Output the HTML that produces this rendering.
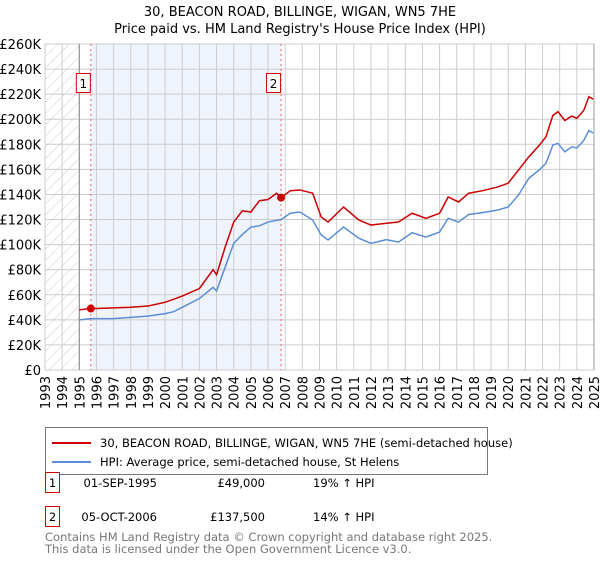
<!DOCTYPE html>
<html><head><meta charset="utf-8"><style>
body{margin:0;background:#fff;font-family:"Liberation Sans","DejaVu Sans",sans-serif;}
svg text{font-family:"DejaVu Sans","Liberation Sans",sans-serif;}
</style></head><body>
<svg id="c" width="600" height="560" xmlns="http://www.w3.org/2000/svg">
<defs><pattern id="hatch" width="8" height="8" patternUnits="userSpaceOnUse" patternTransform="rotate(45)"><line x1="0" y1="0" x2="0" y2="8" stroke="#ccc" stroke-width="1"/></pattern></defs>
<text x="300" y="16" text-anchor="middle" font-size="13">30, BEACON ROAD, BILLINGE, WIGAN, WN5 7HE</text>
<text x="300" y="33" text-anchor="middle" font-size="13">Price paid vs. HM Land Registry's House Price Index (HPI)</text>
<g id="plot"></g>
<g>
<rect x="45.5" y="427.5" width="442" height="47" fill="#fff" stroke="#777"/>
<line x1="52" y1="443" x2="91" y2="443" stroke="#cc0000" stroke-width="2"/>
<text x="100" y="447" font-size="11.5">30, BEACON ROAD, BILLINGE, WIGAN, WN5 7HE (semi-detached house)</text>
<line x1="52" y1="462" x2="91" y2="462" stroke="#5b8ed6" stroke-width="2"/>
<text x="100" y="466" font-size="11.5">HPI: Average price, semi-detached house, St Helens</text>
</g>
<g font-size="11.5">
<rect x="45.5" y="472.5" width="14" height="20" fill="#fff" stroke="#cc0000"/>
<text x="52.5" y="487" text-anchor="middle">1</text>
<text x="157" y="487" text-anchor="end">01-SEP-1995</text>
<text x="265" y="487" text-anchor="end">£49,000</text>
<text x="313" y="487">19% ↑ HPI</text>
<rect x="45.5" y="506.5" width="14" height="20" fill="#fff" stroke="#cc0000"/>
<text x="52.5" y="521" text-anchor="middle">2</text>
<text x="157" y="521" text-anchor="end">05-OCT-2006</text>
<text x="265" y="521" text-anchor="end">£137,500</text>
<text x="313" y="521">14% ↑ HPI</text>
</g>
<text x="45" y="541" font-size="11.5" fill="#777">Contains HM Land Registry data © Crown copyright and database right 2025.</text>
<text x="45" y="553" font-size="11.5" fill="#777">This data is licensed under the Open Government Licence v3.0.</text>
</svg>
<script>
const hpiYears=[1995,1995.67,1996,1997,1998,1999,2000,2000.5,2001,2002,2002.8,2003,2003.5,2004,2004.5,2005,2005.5,2006,2006.76,2007.3,2007.86,2008.6,2009.1,2009.5,2010.4,2011.3,2012.0,2012.9,2013.6,2014.4,2015.2,2016.0,2016.5,2017.1,2017.7,2018.5,2019.4,2020.0,2020.6,2021.2,2021.8,2022.2,2022.6,2022.9,2023.3,2023.7,2024.0,2024.4,2024.7,2024.95];
const hpiValues=[40000,41000,41000,41000,42000,43000,45000,46500,50000,57000,66000,63000,82000,101000,108000,114000,115000,118000,120000,125000,126000,119600,107700,103700,114000,105000,101000,104000,102000,109500,106000,110000,121000,118000,124000,125500,127600,130000,139600,152900,159500,164800,179400,180700,174000,178000,177000,183000,191000,189000];
const propYears=[1995,1995.67,1996,1997,1998,1999,2000,2001,2002,2002.8,2003,2003.5,2004,2004.5,2005,2005.5,2006,2006.5,2006.76,2007.3,2007.86,2008.6,2009.1,2009.5,2010.4,2011.3,2012.0,2012.9,2013.6,2014.4,2015.2,2016.0,2016.5,2017.1,2017.7,2018.5,2019.4,2020.0,2020.6,2021.2,2021.8,2022.2,2022.6,2022.9,2023.3,2023.7,2024.0,2024.4,2024.7,2024.95];
const propValues=[48000,49000,49000,49500,50000,51000,54000,59000,65000,80000,76000,98000,118000,127000,126000,135000,136000,141000,137500,143000,143600,141000,122000,118000,130000,119600,115600,117000,118000,125000,121000,125000,138000,134000,141000,143000,146000,149000,159500,170000,179000,186000,203000,206000,199000,202500,200700,207000,218000,216000];
const saleYears=[1995.67,2006.76];
const saleValues=[49000,137500];
const saleLabels=["1","2"];
const yTicks=[0,20000,40000,60000,80000,100000,120000,140000,160000,180000,200000,220000,240000,260000];
const yTickLabels=["£0","£20K","£40K","£60K","£80K","£100K","£120K","£140K","£160K","£180K","£200K","£220K","£240K","£260K"];
const xTicks=[1993,1994,1995,1996,1997,1998,1999,2000,2001,2002,2003,2004,2005,2006,2007,2008,2009,2010,2011,2012,2013,2014,2015,2016,2017,2018,2019,2020,2021,2022,2023,2024,2025];

const L=45,R=594,T=44,B=370,X0=1993,X1=2025,YMAX=260000;
const xs=v=>L+(v-X0)/(X1-X0)*(R-L);
const ys=v=>B-v/YMAX*(B-T);
const NS='http://www.w3.org/2000/svg';
const g=document.getElementById('plot');
function mk(tag,attrs,parent){const e=document.createElementNS(NS,tag);for(const k in attrs)e.setAttribute(k,attrs[k]);(parent||g).appendChild(e);return e;}

let e=mk('rect',{x:xs(saleYears[0]),y:T,width:xs(saleYears[1])-xs(saleYears[0]),height:B-T,fill:'#eef3fc'});


e=mk('rect',{x:L,y:T,width:xs(1995)-L,height:B-T,fill:'url(#hatch)'});



yTicks.forEach((v,i)=>{
  const ln=mk('line',{x1:L,x2:R,y1:ys(v),y2:ys(v),stroke:'#cccccc'});
  
  
  const t=mk('text',{x:L-4,y:ys(v)+5,'text-anchor':'end','font-size':'13'});
  t.textContent=yTickLabels[i];
  
  
});
xTicks.forEach(v=>{
  const ln=mk('line',{x1:xs(v),x2:xs(v),y1:T,y2:B,stroke:'#cccccc'});
  
  
  const t=mk('text',{x:0,y:0,'text-anchor':'end','font-size':'13',transform:`translate(${xs(v)+5},${B+6}) rotate(-90)`});
  t.textContent=v;
  
  
});
e=mk('line',{x1:xs(1995),x2:xs(1995),y1:T,y2:B,stroke:'#888'});


e=mk('line',{x1:R,x2:R,y1:T,y2:B,stroke:'#999'});



saleYears.forEach((yr,i)=>{
  const ln=mk('line',{x1:xs(yr),x2:xs(yr),y1:T,y2:B,stroke:'#e06666','stroke-dasharray':'2,3'});
  
  
  const bx=mk('rect',{x:xs(yr)-14.5,y:73.5,width:14,height:19,fill:'#fff',stroke:'#cc0000'});
  
  
  const t=mk('text',{x:xs(yr)-7.5,y:88,'text-anchor':'middle','font-size':'12'});
  t.textContent=saleLabels[i];
  
  
});

e=mk('polyline',{points:hpiYears.map((y,i)=>xs(y)+','+ys(hpiValues[i])).join(' '),fill:'none',stroke:'#5b8ed6','stroke-width':'1.5'});


e=mk('polyline',{points:propYears.map((y,i)=>xs(y)+','+ys(propValues[i])).join(' '),fill:'none',stroke:'#cc0000','stroke-width':'1.5'});


saleYears.forEach((yr,i)=>{
  const c=mk('circle',{cx:xs(yr),cy:ys(saleValues[i]),r:4,fill:'#cc0000'});
  
  
});
</script>
</body></html>
